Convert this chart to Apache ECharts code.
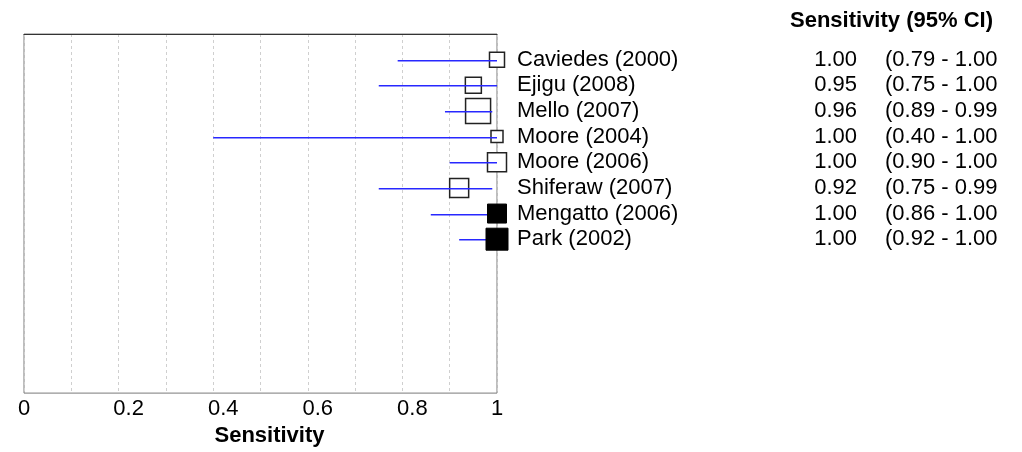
<!DOCTYPE html>
<html>
<head>
<meta charset="utf-8">
<script src="https://cdn.jsdelivr.net/npm/echarts@6/dist/echarts.min.js"></script>
<style>
html,body{margin:0;padding:0;background:#fff;}
#chart{width:1022px;height:452px;}
</style>
</head>
<body>
<div id="chart"></div>
<script>
const studies = ['Caviedes (2000)', 'Ejigu (2008)', 'Mello (2007)', 'Moore (2004)', 'Moore (2006)', 'Shiferaw (2007)', 'Mengatto (2006)', 'Park (2002)'];
const sens = [1.00, 0.95, 0.96, 1.00, 1.00, 0.92, 1.00, 1.00];
const ciLow = [0.79, 0.75, 0.89, 0.40, 0.90, 0.75, 0.86, 0.92];
const ciHigh = [1.00, 1.00, 0.99, 1.00, 1.00, 0.99, 1.00, 1.00];
const boxSize = [15, 16, 25, 12, 19, 19, 19, 22];
const filled = [false, false, false, false, false, false, true, true];
const headerText = 'Sensitivity (95% CI)';
const xAxisTitle = 'Sensitivity';

const FONT = "'Liberation Sans', Arial, sans-serif";
const chart = echarts.init(document.getElementById('chart'), null, {renderer: 'canvas'});

function rowIdx(v) { const i = Math.round(v); return (i >= 0 && i < studies.length) ? i : -1; }

const openData = [], fillData = [], ciData = [];
studies.forEach((s, i) => {
  const pt = {value: [sens[i], i], symbolSize: boxSize[i]};
  (filled[i] ? fillData : openData).push(pt);
  ciData.push([ciLow[i], ciHigh[i], i]);
});

const baseY = {type: 'value', min: -1, max: 13, interval: 1, inverse: true,
  axisLine: {show: false, onZero: false}, axisTick: {show: false}, splitLine: {show: false}};

const option = {
  animation: false,
  title: {text: headerText, left: 790, top: 10, padding: 0,
    textStyle: {fontFamily: FONT, fontSize: 22, fontWeight: 'bold', color: '#000'}},
  grid: {left: 24, right: 525, top: 34, bottom: 54, show: true, borderColor: '#7a7a7a', borderWidth: 1, backgroundColor: 'transparent'},
  xAxis: [{
    type: 'value', min: 0, max: 1, interval: 0.1,
    axisLine: {show: false, onZero: false}, axisTick: {show: false},
    splitLine: {show: true, lineStyle: {color: '#cfcfcf', type: [3, 3], width: 1}},
    axisLabel: {
      margin: 5, color: '#000', fontFamily: FONT, fontSize: 22,
      formatter: function (v) {
        const k = Math.round(v * 10);
        if (k % 2) return '';
        if (k === 0 || k === 10) return String(k / 10);
        return '{s|' + (k / 10) + '}';
      },
      rich: {s: {fontFamily: FONT, fontSize: 22, color: '#000', padding: [0, 0, 0, 20]}}
    },
    name: xAxisTitle, nameLocation: 'middle', nameGap: 27,
    nameTextStyle: {fontFamily: FONT, fontSize: 22, fontWeight: 'bold', color: '#000', padding: [0, 0, 0, 18]}
  }, {
    type: 'value', min: 0, max: 1, interval: 0.1, position: 'top',
    axisLine: {show: true, onZero: false, lineStyle: {color: '#333', width: 1}},
    axisTick: {show: false}, axisLabel: {show: false}, splitLine: {show: false}
  }],
  yAxis: [
    Object.assign({}, baseY, {position: 'left', axisLabel: {show: false}}),
    Object.assign({}, baseY, {position: 'right', offset: 0,
      axisLabel: {margin: 20, color: '#000', fontFamily: FONT, fontSize: 22,
        formatter: v => { const i = rowIdx(v); return i < 0 ? '' : studies[i]; }}}),
    Object.assign({}, baseY, {position: 'right', offset: 360,
      axisLabel: {margin: 0, align: 'right', color: '#000', fontFamily: FONT, fontSize: 22,
        formatter: v => { const i = rowIdx(v); return i < 0 ? '' : sens[i].toFixed(2); }}}),
    Object.assign({}, baseY, {position: 'right', offset: 388,
      axisLabel: {margin: 0, align: 'left', color: '#000', fontFamily: FONT, fontSize: 22,
        formatter: v => { const i = rowIdx(v); return i < 0 ? '' : '(' + ciLow[i].toFixed(2) + ' - ' + ciHigh[i].toFixed(2); }}})
  ],
  series: [
    {type: 'scatter', z: 2, clip: false, symbol: 'rect', data: openData,
      itemStyle: {color: '#fff', borderColor: '#222', borderWidth: 1.5, opacity: 1}},
    {type: 'custom', z: 3, clip: false, data: ciData,
      encode: {x: [0, 1], y: 2},
      renderItem: function (params, api) {
        const a = api.coord([api.value(0), api.value(2)]);
        const b = api.coord([api.value(1), api.value(2)]);
        const y = Math.round(a[1]) + 0.75;
        return {type: 'line', shape: {x1: a[0], y1: y, x2: b[0], y2: y},
          style: {stroke: '#2828ff', lineWidth: 1.5}};
      }},
    {type: 'scatter', z: 4, clip: false, symbol: 'rect', data: fillData,
      itemStyle: {color: '#000', borderColor: '#000', borderWidth: 1, opacity: 1}}
  ]
};
chart.setOption(option);
</script>
</body>
</html>
